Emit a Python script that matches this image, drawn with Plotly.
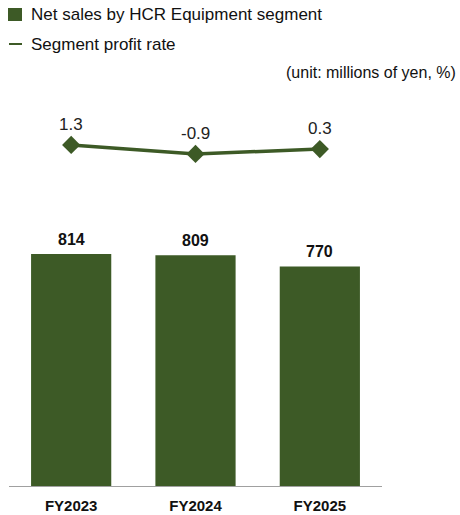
import plotly.graph_objects as go

categories = ["FY2023", "FY2024", "FY2025"]
net_sales = [814, 809, 770]
profit_rate = [1.3, -0.9, 0.3]
profit_labels = ["1.3", "-0.9", "0.3"]

GREEN = "#3d5a26"
FONT = "Liberation Sans, Arial, sans-serif"

fig = go.Figure()
fig.add_trace(go.Bar(
    x=categories, y=net_sales, marker_color=GREEN, marker_line_width=0,
    name="Net sales by HCR Equipment segment", yaxis="y", showlegend=False,
))
fig.add_trace(go.Scatter(
    x=categories, y=profit_rate, mode="lines+markers", yaxis="y2",
    line=dict(color=GREEN, width=3.5),
    marker=dict(symbol="diamond", size=14, color=GREEN),
    name="Segment profit rate", showlegend=False,
))

annotations = []
for c, v in zip(categories, net_sales):
    annotations.append(dict(x=c, y=v, xref="x", yref="y", text=f"<b>{v}</b>",
                            showarrow=False, yanchor="bottom", yshift=4,
                            font=dict(size=16, color="#111111", family=FONT)))
for c, v, t in zip(categories, profit_rate, profit_labels):
    annotations.append(dict(x=c, y=v, xref="x", yref="y2", text=t,
                            showarrow=False, yanchor="bottom", yshift=9,
                            font=dict(size=17, color="#222222", family=FONT)))

# custom legend
annotations += [
    dict(x=29, y=15, xref="paper", yref="paper", text="Net sales by HCR Equipment segment",
         showarrow=False, xanchor="left", yanchor="middle",
         font=dict(size=17, color="#111111", family=FONT)),
    dict(x=29, y=44, xref="paper", yref="paper", text="Segment profit rate",
         showarrow=False, xanchor="left", yanchor="middle",
         font=dict(size=17, color="#111111", family=FONT)),
    dict(x=458, y=72, xref="paper", yref="paper", text="(unit: millions of yen, %)",
         showarrow=False, xanchor="right", yanchor="middle",
         font=dict(size=16, color="#111111", family=FONT)),
]

W, H = 460, 515
L, R, T, B = 9, 78, 90, 29

# convert pixel positions to paper coords
def px(x):
    return (x - L) / (W - L - R)

def py(y):
    return (H - B - y) / (H - T - B)

for a in annotations:
    if a["xref"] == "paper":
        a["x"] = px(a["x"])
        a["y"] = py(a["y"])

shapes = [
    dict(type="rect", xref="paper", yref="paper", x0=px(8), x1=px(22), y0=py(8), y1=py(21),
         fillcolor=GREEN, line_width=0),
    dict(type="line", xref="paper", yref="paper", x0=px(9), x1=px(22), y0=py(44), y1=py(44),
         line=dict(color=GREEN, width=2)),
]

fig.update_layout(
    width=W, height=H,
    margin=dict(l=L, r=R, t=T, b=B, autoexpand=False),
    paper_bgcolor="white", plot_bgcolor="white",
    bargap=0.355,
    showlegend=False,
    font=dict(family=FONT, color="#111111"),
    xaxis=dict(showgrid=False, showline=True, linecolor="#a0a0a0", linewidth=1,
               ticks="", tickfont=dict(size=15, color="#111111", family=FONT),
               tickprefix="<b>", ticksuffix="</b>", ticklabelstandoff=6,
               automargin=False),
    yaxis=dict(range=[0, 1389], visible=False, showgrid=False, automargin=False),
    yaxis2=dict(range=[-82.08, 14.74], overlaying="y", visible=False, showgrid=False,
                automargin=False),
    annotations=annotations,
    shapes=shapes,
)

fig.write_html("out.html", config={"displayModeBar": False},
               post_script="document.body.style.margin='0';document.body.style.overflow='hidden';")
